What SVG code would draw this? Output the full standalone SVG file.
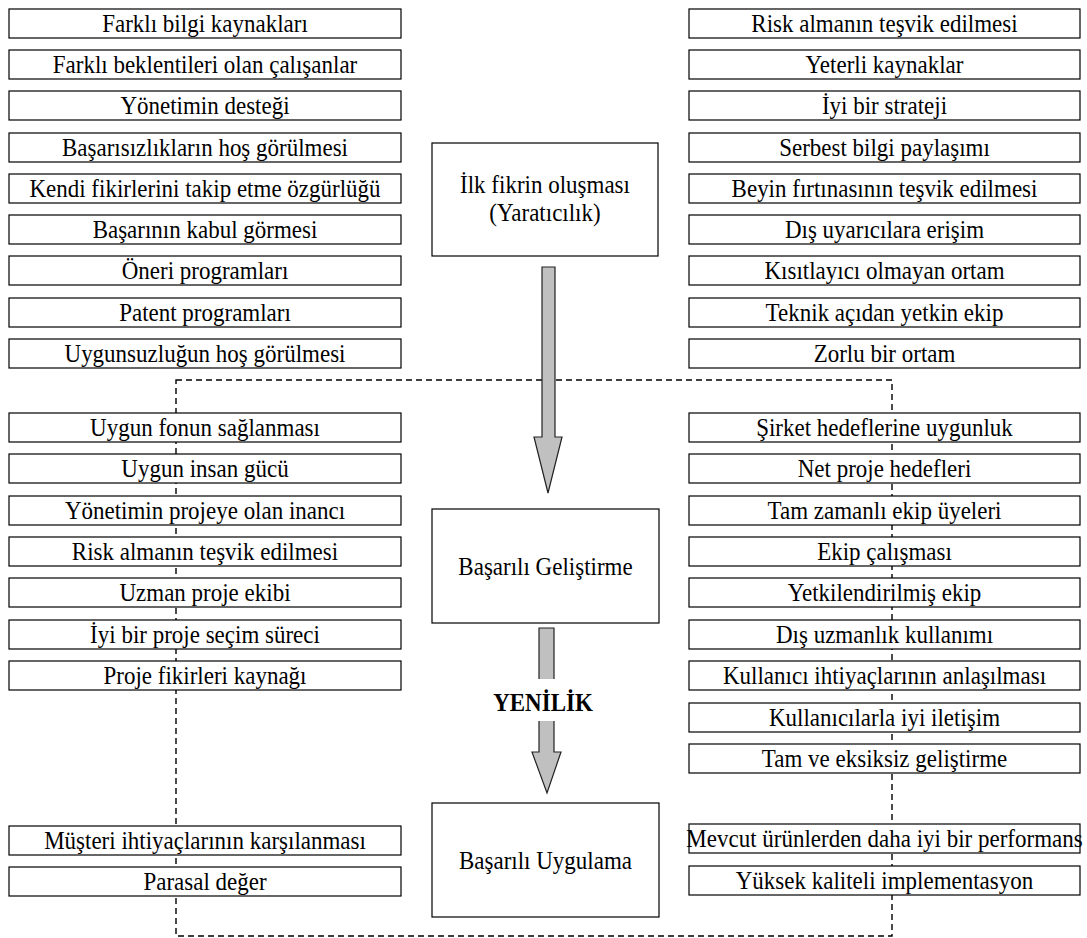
<svg xmlns="http://www.w3.org/2000/svg" width="1087" height="938" viewBox="0 0 1087 938">
  <style>
    .box { fill: #fff; stroke: #000; stroke-width: 1.2; }
    .t { font-family: "Liberation Serif", "Times New Roman", serif; font-size: 23px; text-anchor: middle; fill: #000; }
    .b { font-weight: bold; }
    .frame { fill: none; stroke: #000; stroke-width: 1.4; stroke-dasharray: 6 4; }
    .arrow { fill: #c0c0c0; stroke: #222; stroke-width: 1.2; stroke-linejoin: miter; }
  </style>
  <rect width="1087" height="938" fill="#fff"/>

  <!-- dashed frame around development / implementation stages -->
  <rect class="frame" x="176" y="380" width="716" height="556"/>

  <!-- left column: idea generation factors -->
  <g id="l1"><rect class="box" x="9" y="9" width="392" height="29"/><text class="t" transform="translate(205,32) scale(1,1.12)">Farklı bilgi kaynakları</text></g>
  <g id="l2"><rect class="box" x="9" y="50" width="392" height="29"/><text class="t" transform="translate(205,73) scale(1,1.12)">Farklı beklentileri olan çalışanlar</text></g>
  <g id="l3"><rect class="box" x="9" y="91" width="392" height="29"/><text class="t" transform="translate(205,114) scale(1,1.12)">Yönetimin desteği</text></g>
  <g id="l4"><rect class="box" x="9" y="133" width="392" height="29"/><text class="t" transform="translate(205,156) scale(1,1.12)">Başarısızlıkların hoş görülmesi</text></g>
  <g id="l5"><rect class="box" x="9" y="174" width="392" height="29"/><text class="t" transform="translate(205,197) scale(1,1.12)">Kendi fikirlerini takip etme özgürlüğü</text></g>
  <g id="l6"><rect class="box" x="9" y="215" width="392" height="29"/><text class="t" transform="translate(205,238) scale(1,1.12)">Başarının kabul görmesi</text></g>
  <g id="l7"><rect class="box" x="9" y="256" width="392" height="29"/><text class="t" transform="translate(205,279) scale(1,1.12)">Öneri programları</text></g>
  <g id="l8"><rect class="box" x="9" y="298" width="392" height="29"/><text class="t" transform="translate(205,321) scale(1,1.12)">Patent programları</text></g>
  <g id="l9"><rect class="box" x="9" y="339" width="392" height="29"/><text class="t" transform="translate(205,362) scale(1,1.12)">Uygunsuzluğun hoş görülmesi</text></g>

  <!-- right column: idea generation factors -->
  <g id="r1"><rect class="box" x="689" y="9" width="391" height="29"/><text class="t" transform="translate(884.5,32) scale(1,1.12)">Risk almanın teşvik edilmesi</text></g>
  <g id="r2"><rect class="box" x="689" y="50" width="391" height="29"/><text class="t" transform="translate(884.5,73) scale(1,1.12)">Yeterli kaynaklar</text></g>
  <g id="r3"><rect class="box" x="689" y="91" width="391" height="29"/><text class="t" transform="translate(884.5,114) scale(1,1.12)">İyi bir strateji</text></g>
  <g id="r4"><rect class="box" x="689" y="133" width="391" height="29"/><text class="t" transform="translate(884.5,156) scale(1,1.12)">Serbest bilgi paylaşımı</text></g>
  <g id="r5"><rect class="box" x="689" y="174" width="391" height="29"/><text class="t" transform="translate(884.5,197) scale(1,1.12)">Beyin fırtınasının teşvik edilmesi</text></g>
  <g id="r6"><rect class="box" x="689" y="215" width="391" height="29"/><text class="t" transform="translate(884.5,238) scale(1,1.12)">Dış uyarıcılara erişim</text></g>
  <g id="r7"><rect class="box" x="689" y="256" width="391" height="29"/><text class="t" transform="translate(884.5,279) scale(1,1.12)">Kısıtlayıcı olmayan ortam</text></g>
  <g id="r8"><rect class="box" x="689" y="298" width="391" height="29"/><text class="t" transform="translate(884.5,321) scale(1,1.12)">Teknik açıdan yetkin ekip</text></g>
  <g id="r9"><rect class="box" x="689" y="339" width="391" height="29"/><text class="t" transform="translate(884.5,362) scale(1,1.12)">Zorlu bir ortam</text></g>

  <!-- left column: development factors -->
  <g id="lm1"><rect class="box" x="9" y="413" width="392" height="29"/><text class="t" transform="translate(205,436) scale(1,1.12)">Uygun fonun sağlanması</text></g>
  <g id="lm2"><rect class="box" x="9" y="454" width="392" height="29"/><text class="t" transform="translate(205,477) scale(1,1.12)">Uygun insan gücü</text></g>
  <g id="lm3"><rect class="box" x="9" y="496" width="392" height="29"/><text class="t" transform="translate(205,519) scale(1,1.12)">Yönetimin projeye olan inancı</text></g>
  <g id="lm4"><rect class="box" x="9" y="537" width="392" height="29"/><text class="t" transform="translate(205,560) scale(1,1.12)">Risk almanın teşvik edilmesi</text></g>
  <g id="lm5"><rect class="box" x="9" y="578" width="392" height="29"/><text class="t" transform="translate(205,601) scale(1,1.12)">Uzman proje ekibi</text></g>
  <g id="lm6"><rect class="box" x="9" y="620" width="392" height="29"/><text class="t" transform="translate(205,643) scale(1,1.12)">İyi bir proje seçim süreci</text></g>
  <g id="lm7"><rect class="box" x="9" y="661" width="392" height="29"/><text class="t" transform="translate(205,684) scale(1,1.12)">Proje fikirleri kaynağı</text></g>

  <!-- right column: development factors -->
  <g id="rm1"><rect class="box" x="689" y="413" width="391" height="29"/><text class="t" transform="translate(884.5,436) scale(1,1.12)">Şirket hedeflerine uygunluk</text></g>
  <g id="rm2"><rect class="box" x="689" y="454" width="391" height="29"/><text class="t" transform="translate(884.5,477) scale(1,1.12)">Net proje hedefleri</text></g>
  <g id="rm3"><rect class="box" x="689" y="496" width="391" height="29"/><text class="t" transform="translate(884.5,519) scale(1,1.12)">Tam zamanlı ekip üyeleri</text></g>
  <g id="rm4"><rect class="box" x="689" y="537" width="391" height="29"/><text class="t" transform="translate(884.5,560) scale(1,1.12)">Ekip çalışması</text></g>
  <g id="rm5"><rect class="box" x="689" y="578" width="391" height="29"/><text class="t" transform="translate(884.5,601) scale(1,1.12)">Yetkilendirilmiş ekip</text></g>
  <g id="rm6"><rect class="box" x="689" y="620" width="391" height="29"/><text class="t" transform="translate(884.5,643) scale(1,1.12)">Dış uzmanlık kullanımı</text></g>
  <g id="rm7"><rect class="box" x="689" y="661" width="391" height="29"/><text class="t" transform="translate(884.5,684) scale(1,1.12)">Kullanıcı ihtiyaçlarının anlaşılması</text></g>
  <g id="rm8"><rect class="box" x="689" y="703" width="391" height="29"/><text class="t" transform="translate(884.5,726) scale(1,1.12)">Kullanıcılarla iyi iletişim</text></g>
  <g id="rm9"><rect class="box" x="689" y="744" width="391" height="29"/><text class="t" transform="translate(884.5,767) scale(1,1.12)">Tam ve eksiksiz geliştirme</text></g>

  <!-- implementation factors -->
  <g id="lb1"><rect class="box" x="9" y="826" width="392" height="29"/><text class="t" transform="translate(205,849) scale(1,1.12)">Müşteri ihtiyaçlarının karşılanması</text></g>
  <g id="lb2"><rect class="box" x="9" y="867" width="392" height="29"/><text class="t" transform="translate(205,890) scale(1,1.12)">Parasal değer</text></g>
  <g id="rb1"><rect class="box" x="689" y="824" width="391" height="29"/><text class="t" transform="translate(884.5,847) scale(1,1.12)">Mevcut ürünlerden daha iyi bir performans</text></g>
  <g id="rb2"><rect class="box" x="689" y="866" width="391" height="29"/><text class="t" transform="translate(884.5,889) scale(1,1.12)">Yüksek kaliteli implementasyon</text></g>

  <!-- central stages -->
  <g id="stage-idea"><rect class="box" x="432" y="143" width="226" height="113"/>
    <text class="t" transform="translate(545,193) scale(1,1.12)">İlk fikrin oluşması</text>
    <text class="t" transform="translate(545,221) scale(1,1.12)">(Yaratıcılık)</text></g>
  <g id="stage-dev"><rect class="box" x="432" y="509" width="227" height="114"/>
    <text class="t" transform="translate(545.5,575) scale(1,1.12)">Başarılı Geliştirme</text></g>
  <g id="stage-impl"><rect class="box" x="432" y="803" width="227" height="114"/>
    <text class="t" transform="translate(545.5,869) scale(1,1.12)">Başarılı Uygulama</text></g>

  <!-- block arrows between stages -->
  <g id="connectors">
    <polygon class="arrow" points="542,267 555,267 555,437 562,437 548,493 534,437 542,437"/>
    <polygon class="arrow" points="539,628 554,628 554,752 561,752 547,793 532,752 539,752"/>
    <rect x="490" y="679" width="110" height="42" fill="#fff"/>
    <text class="t b" transform="translate(543,711) scale(1,1.12)">YENİLİK</text>
  </g>
</svg>
